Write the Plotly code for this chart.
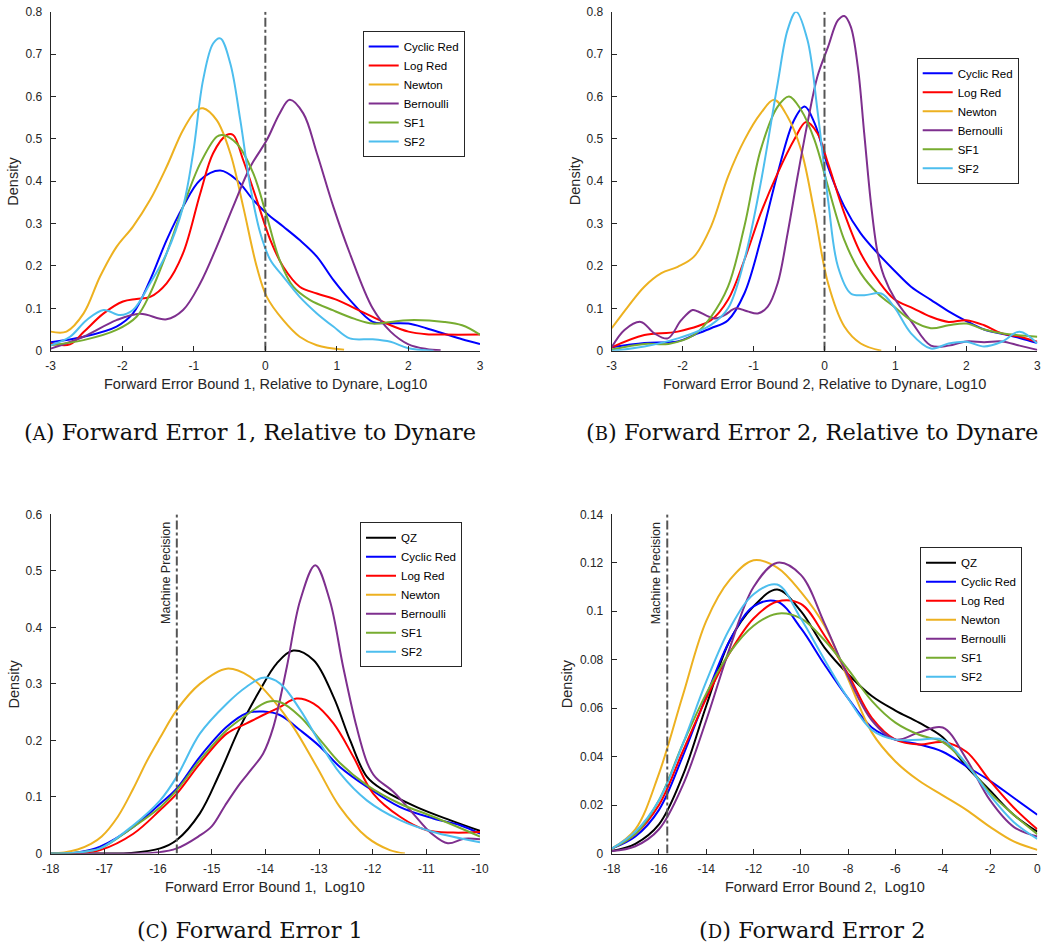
import plotly.graph_objects as go

# ---------------- DATA ----------------
COLORS = {"QZ": "#000000", "Cyclic Red": "#0000FF", "Log Red": "#FF0000", "Newton": "#EDB120",
          "Bernoulli": "#7E2F8E", "SF1": "#77AC30", "SF2": "#4DBEEE"}

# Panel A: Forward Error Bound 1, relative to Dynare (log10)
a_cyc_x = [-3, -2.54, -2.08, -1.85, -1.61, -1.38, -1.15, -0.91, -0.63, -0.4, -0.17, 0.02, 0.25, 0.48, 0.72, 0.95, 1.18, 1.5, 1.75, 2, 2.25, 2.5, 2.75, 3]
a_cyc_y = [0.02, 0.033, 0.057, 0.088, 0.167, 0.261, 0.34, 0.403, 0.425, 0.403, 0.356, 0.324, 0.293, 0.261, 0.222, 0.167, 0.12, 0.068, 0.065, 0.064, 0.053, 0.04, 0.027, 0.016]
a_log_x = [-3, -2.73, -2.54, -2.26, -1.99, -1.8, -1.61, -1.38, -1.15, -0.91, -0.73, -0.54, -0.45, -0.31, -0.12, 0.07, 0.25, 0.48, 0.72, 1, 1.25, 1.5, 1.75, 2, 2.25, 2.5, 3]
a_log_y = [0.017, 0.015, 0.044, 0.088, 0.116, 0.122, 0.127, 0.159, 0.23, 0.371, 0.466, 0.509, 0.509, 0.45, 0.356, 0.261, 0.198, 0.151, 0.135, 0.12, 0.1, 0.08, 0.06, 0.045, 0.039, 0.038, 0.038]
a_newt_x = [-3, -2.78, -2.54, -2.31, -2.08, -1.85, -1.61, -1.38, -1.15, -0.96, -0.87, -0.68, -0.49, -0.31, -0.12, 0.02, 0.25, 0.48, 0.72, 1.1]
a_newt_y = [0.045, 0.045, 0.088, 0.175, 0.245, 0.293, 0.356, 0.434, 0.521, 0.568, 0.572, 0.544, 0.466, 0.34, 0.198, 0.127, 0.072, 0.033, 0.013, 0.002]
a_bern_x = [-3, -2.54, -2.08, -1.75, -1.38, -1.15, -0.91, -0.68, -0.45, -0.21, 0.02, 0.2, 0.34, 0.53, 0.72, 0.95, 1.18, 1.5, 1.75, 2, 2.25, 2.45]
a_bern_y = [0.005, 0.033, 0.072, 0.087, 0.074, 0.096, 0.159, 0.245, 0.34, 0.434, 0.497, 0.56, 0.592, 0.56, 0.466, 0.34, 0.23, 0.1, 0.045, 0.015, 0.004, 0.001]
a_sf1_x = [-3, -2.54, -2.08, -1.8, -1.61, -1.38, -1.15, -0.91, -0.68, -0.6, -0.4, -0.17, 0.02, 0.2, 0.39, 0.62, 0.95, 1.25, 1.5, 1.75, 2, 2.5, 2.75, 3]
a_sf1_y = [0.013, 0.025, 0.049, 0.08, 0.135, 0.23, 0.34, 0.442, 0.505, 0.509, 0.489, 0.419, 0.317, 0.214, 0.151, 0.12, 0.095, 0.075, 0.064, 0.068, 0.072, 0.068, 0.06, 0.038]
a_sf2_x = [-3, -2.73, -2.5, -2.26, -2.03, -1.85, -1.61, -1.38, -1.15, -1.01, -0.87, -0.73, -0.63, -0.49, -0.35, -0.21, -0.07, 0.07, 0.25, 0.48, 0.72, 0.95, 1.18, 1.5, 1.75, 2, 2.35]
a_sf2_y = [0.013, 0.033, 0.072, 0.096, 0.084, 0.096, 0.159, 0.23, 0.34, 0.466, 0.639, 0.725, 0.737, 0.678, 0.544, 0.387, 0.277, 0.214, 0.175, 0.127, 0.088, 0.057, 0.029, 0.027, 0.021, 0.006, 0.0]

# Panel B: Forward Error Bound 2, relative to Dynare (log10)
b_cyc_x = [-3, -2.54, -2.07, -1.84, -1.6, -1.36, -1.13, -0.9, -0.66, -0.43, -0.28, -0.14, 0.05, 0.28, 0.51, 0.75, 0.98, 1.22, 1.5, 1.75, 2, 2.25, 2.5, 2.75, 3]
b_cyc_y = [0.008, 0.018, 0.022, 0.037, 0.053, 0.072, 0.135, 0.261, 0.419, 0.544, 0.576, 0.537, 0.434, 0.34, 0.277, 0.23, 0.19, 0.151, 0.12, 0.093, 0.07, 0.05, 0.04, 0.03, 0.018]
b_log_x = [-3, -2.54, -2.07, -1.6, -1.36, -1.13, -0.9, -0.66, -0.43, -0.26, -0.1, 0.05, 0.28, 0.51, 0.75, 0.98, 1.25, 1.5, 1.75, 2, 2.25, 2.5, 2.75, 3]
b_log_y = [0.008, 0.037, 0.045, 0.072, 0.12, 0.214, 0.324, 0.419, 0.497, 0.54, 0.513, 0.442, 0.324, 0.23, 0.167, 0.122, 0.1, 0.08, 0.068, 0.072, 0.06, 0.041, 0.033, 0.021]
b_newt_x = [-3, -2.77, -2.54, -2.3, -2.07, -1.84, -1.6, -1.36, -1.13, -0.9, -0.71, -0.52, -0.33, -0.14, 0.05, 0.28, 0.51, 0.8]
b_newt_y = [0.053, 0.104, 0.151, 0.183, 0.198, 0.222, 0.293, 0.411, 0.497, 0.56, 0.592, 0.552, 0.474, 0.324, 0.159, 0.057, 0.017, 0.0]
b_bern_x = [-3, -2.82, -2.59, -2.4, -2.21, -2.02, -1.86, -1.79, -1.55, -1.41, -1.25, -1.09, -0.94, -0.8, -0.66, -0.52, -0.38, -0.24, -0.1, 0.05, 0.19, 0.28, 0.37, 0.47, 0.56, 0.66, 0.75, 0.84, 1.0, 1.22, 1.5, 1.75, 2, 2.25, 2.5, 2.75, 3]
b_bern_y = [0.008, 0.049, 0.068, 0.041, 0.029, 0.072, 0.096, 0.093, 0.076, 0.084, 0.1, 0.093, 0.088, 0.104, 0.159, 0.277, 0.411, 0.537, 0.647, 0.717, 0.78, 0.79, 0.765, 0.67, 0.513, 0.34, 0.23, 0.175, 0.12, 0.07, 0.012, 0.012, 0.022, 0.02, 0.022, 0.012, 0.002]
b_sf1_x = [-3, -2.54, -2.2, -1.84, -1.6, -1.36, -1.13, -0.9, -0.66, -0.5, -0.33, -0.14, 0.05, 0.28, 0.51, 0.75, 0.98, 1.22, 1.5, 1.75, 2, 2.25, 2.5, 3]
b_sf1_y = [0.003, 0.016, 0.016, 0.037, 0.08, 0.151, 0.293, 0.474, 0.576, 0.6, 0.568, 0.497, 0.387, 0.261, 0.183, 0.135, 0.104, 0.072, 0.053, 0.06, 0.064, 0.05, 0.041, 0.033]
b_sf2_x = [-3, -2.54, -2.07, -1.6, -1.36, -1.13, -0.9, -0.66, -0.52, -0.4, -0.24, -0.1, 0.05, 0.19, 0.37, 0.56, 0.8, 0.98, 1.22, 1.5, 1.75, 2, 2.25, 2.5, 2.75, 3]
b_sf2_y = [0.0, 0.01, 0.029, 0.061, 0.1, 0.214, 0.395, 0.631, 0.757, 0.8, 0.733, 0.568, 0.356, 0.198, 0.135, 0.131, 0.135, 0.104, 0.041, 0.005, 0.017, 0.021, 0.01, 0.021, 0.045, 0.017]

# Panel C: Forward Error Bound 1 (log10)
c_qz_x = [-18, -17, -16.5, -15.96, -15.65, -15.22, -14.85, -14.47, -14.1, -13.79, -13.48, -13.1, -12.73, -12.42, -12.11, -11.8, -11.18, -10.56, -10]
c_qz_y = [0, 0, 0.001, 0.009, 0.024, 0.071, 0.142, 0.224, 0.289, 0.336, 0.359, 0.342, 0.277, 0.2, 0.136, 0.112, 0.082, 0.059, 0.04]
c_cyc_x = [-18, -17.5, -17.08, -16.46, -15.96, -15.65, -15.22, -14.72, -14.35, -14.04, -13.73, -13.35, -12.98, -12.61, -12.11, -11.49, -10.87, -10.37, -10]
c_cyc_y = [0, 0.002, 0.012, 0.047, 0.088, 0.115, 0.171, 0.224, 0.248, 0.251, 0.245, 0.218, 0.189, 0.153, 0.118, 0.082, 0.062, 0.05, 0.035]
c_log_x = [-18, -17.5, -17.08, -16.46, -15.96, -15.65, -15.22, -14.72, -14.35, -14.04, -13.73, -13.42, -13.1, -12.73, -12.36, -11.99, -11.49, -10.99, -10.5, -10]
c_log_y = [0, 0.001, 0.006, 0.035, 0.077, 0.106, 0.159, 0.212, 0.23, 0.245, 0.259, 0.274, 0.265, 0.23, 0.171, 0.106, 0.065, 0.041, 0.037, 0.038]
c_newt_x = [-18, -17.75, -17.5, -17.25, -17.05, -16.75, -16.46, -16.2, -15.96, -15.65, -15.22, -14.72, -14.29, -13.85, -13.48, -13.04, -12.61, -12.11, -11.68, -11.4]
c_newt_y = [0, 0.002, 0.007, 0.017, 0.03, 0.065, 0.115, 0.165, 0.205, 0.254, 0.3, 0.327, 0.313, 0.271, 0.224, 0.153, 0.082, 0.029, 0.006, 0.0]
c_bern_x = [-18, -16.5, -16, -15.65, -15.25, -15.0, -14.75, -14.47, -14.25, -14.04, -13.85, -13.6, -13.35, -13.07, -12.8, -12.55, -12.3, -12.1, -11.95, -11.6, -11.25, -10.9, -10.6, -10.3, -10]
c_bern_y = [0, 0, 0.002, 0.009, 0.03, 0.048, 0.085, 0.124, 0.15, 0.177, 0.224, 0.33, 0.448, 0.51, 0.448, 0.33, 0.224, 0.16, 0.135, 0.108, 0.071, 0.035, 0.018, 0.026, 0.025]
c_sf1_x = [-18, -17.5, -17.08, -16.46, -15.96, -15.65, -15.22, -14.72, -14.35, -13.97, -13.73, -13.35, -12.98, -12.61, -12.11, -11.49, -10.87, -10]
c_sf1_y = [0, 0.002, 0.009, 0.047, 0.082, 0.112, 0.165, 0.218, 0.245, 0.268, 0.268, 0.242, 0.201, 0.16, 0.121, 0.088, 0.065, 0.03]
c_sf2_x = [-18, -17.5, -17.08, -16.46, -15.96, -15.65, -15.22, -14.72, -14.35, -14.04, -13.73, -13.35, -12.98, -12.61, -12.11, -11.49, -10.87, -10]
c_sf2_y = [0, 0.002, 0.009, 0.05, 0.094, 0.136, 0.212, 0.265, 0.295, 0.311, 0.301, 0.254, 0.195, 0.142, 0.094, 0.059, 0.038, 0.02]

# Panel D: Forward Error Bound 2 (log10)
d_x = [-18, -17, -16, -15, -14, -13, -12, -11, -10, -9, -8, -7, -6, -5, -4, -3, -2, -1, 0]
d_qz_y = [0.001, 0.004, 0.012, 0.032, 0.061, 0.088, 0.102, 0.109, 0.1, 0.085, 0.074, 0.065, 0.059, 0.054, 0.048, 0.036, 0.026, 0.016, 0.009]
d_cyc_y = [0.002, 0.007, 0.018, 0.04, 0.065, 0.088, 0.102, 0.104, 0.093, 0.078, 0.064, 0.052, 0.047, 0.045, 0.042, 0.036, 0.03, 0.023, 0.016]
d_log_y = [0.002, 0.008, 0.02, 0.042, 0.064, 0.083, 0.097, 0.104, 0.103, 0.09, 0.074, 0.056, 0.047, 0.045, 0.046, 0.042, 0.03, 0.019, 0.01]
d_newt_y = [0.002, 0.01, 0.033, 0.065, 0.096, 0.113, 0.121, 0.118, 0.108, 0.094, 0.072, 0.05, 0.038, 0.03, 0.024, 0.018, 0.011, 0.005, 0.0015]
d_bern_y = [0.001, 0.003, 0.01, 0.028, 0.055, 0.085, 0.11, 0.12, 0.115, 0.095, 0.073, 0.055, 0.047, 0.05, 0.052, 0.039, 0.022, 0.011, 0.007]
d_sf1_y = [0.002, 0.008, 0.022, 0.045, 0.066, 0.083, 0.094, 0.099, 0.097, 0.088, 0.076, 0.063, 0.054, 0.049, 0.046, 0.037, 0.025, 0.016, 0.008]
d_sf2_y = [0.002, 0.009, 0.022, 0.045, 0.071, 0.093, 0.107, 0.111, 0.097, 0.08, 0.064, 0.051, 0.047, 0.047, 0.047, 0.037, 0.024, 0.013, 0.006]

MACHINE_PRECISION = -15.65

xA_ticks = [-3, -2, -1, 0, 1, 2, 3]
xC_ticks = [-18, -17, -16, -15, -14, -13, -12, -11, -10]
xD_ticks = [-18, -16, -14, -12, -10, -8, -6, -4, -2, 0]
yAB_ticks = [0, 0.1, 0.2, 0.3, 0.4, 0.5, 0.6, 0.7, 0.8]
yC_ticks = [0, 0.1, 0.2, 0.3, 0.4, 0.5, 0.6]
yD_ticks = [0, 0.02, 0.04, 0.06, 0.08, 0.1, 0.12, 0.14]

# ---------------- FIGURE ----------------
W, H = 1047, 950
FONT = "Liberation Sans"
TXT = "#262626"

fig = go.Figure()

panels = [
    dict(xa="x", ya="y", legend="legend",
         series=[("Cyclic Red", a_cyc_x, a_cyc_y), ("Log Red", a_log_x, a_log_y),
                 ("Newton", a_newt_x, a_newt_y), ("Bernoulli", a_bern_x, a_bern_y),
                 ("SF1", a_sf1_x, a_sf1_y), ("SF2", a_sf2_x, a_sf2_y)]),
    dict(xa="x2", ya="y2", legend="legend2",
         series=[("Cyclic Red", b_cyc_x, b_cyc_y), ("Log Red", b_log_x, b_log_y),
                 ("Newton", b_newt_x, b_newt_y), ("Bernoulli", b_bern_x, b_bern_y),
                 ("SF1", b_sf1_x, b_sf1_y), ("SF2", b_sf2_x, b_sf2_y)]),
    dict(xa="x3", ya="y3", legend="legend3",
         series=[("QZ", c_qz_x, c_qz_y), ("Cyclic Red", c_cyc_x, c_cyc_y), ("Log Red", c_log_x, c_log_y),
                 ("Newton", c_newt_x, c_newt_y), ("Bernoulli", c_bern_x, c_bern_y),
                 ("SF1", c_sf1_x, c_sf1_y), ("SF2", c_sf2_x, c_sf2_y)]),
    dict(xa="x4", ya="y4", legend="legend4",
         series=[("QZ", d_x, d_qz_y), ("Cyclic Red", d_x, d_cyc_y), ("Log Red", d_x, d_log_y),
                 ("Newton", d_x, d_newt_y), ("Bernoulli", d_x, d_bern_y),
                 ("SF1", d_x, d_sf1_y), ("SF2", d_x, d_sf2_y)]),
]

for p in panels:
    for name, xs, ys in p["series"]:
        fig.add_trace(go.Scatter(
            x=xs, y=ys, mode="lines", name=name, legend=p["legend"],
            xaxis=p["xa"], yaxis=p["ya"], hoverinfo="x+y+name",
            line=dict(color=COLORS[name], width=2, shape="spline", smoothing=1.0),
        ))

# vertical reference lines (Dynare = 0, machine precision)
vlines = [("x", "y", 0, 0.8), ("x2", "y2", 0, 0.8),
          ("x3", "y3", MACHINE_PRECISION, 0.6), ("x4", "y4", MACHINE_PRECISION, 0.14)]
for xa, ya, xv, ytop in vlines:
    fig.add_trace(go.Scatter(x=[xv, xv], y=[0, ytop], mode="lines", showlegend=False, hoverinfo="skip",
                             xaxis=xa, yaxis=ya, line=dict(color="#555555", width=2, dash="dashdot")))


def dom_x(a, b):
    return [a / W, b / W]


def dom_y(top, bottom):
    return [1 - bottom / H, 1 - top / H]


def xaxis(domain, rng, anchor, ticks):
    return dict(domain=domain, range=rng, anchor=anchor, automargin=False,
                tickmode="array", tickvals=ticks, ticktext=[str(v) for v in ticks],
                showline=True, linecolor=TXT, linewidth=1, ticks="inside", ticklen=5, tickcolor=TXT,
                tickfont=dict(family=FONT, size=12, color=TXT), ticklabelstandoff=4,
                showgrid=False, zeroline=False, fixedrange=True)


def yaxis(domain, rng, anchor, ticks):
    return dict(domain=domain, range=rng, anchor=anchor, automargin=False,
                tickmode="array", tickvals=ticks, ticktext=[("0" if v == 0 else f"{v:g}") for v in ticks],
                showline=True, linecolor=TXT, linewidth=1, ticks="inside", ticklen=5, tickcolor=TXT,
                tickfont=dict(family=FONT, size=12, color=TXT), ticklabelstandoff=5,
                showgrid=False, zeroline=False, fixedrange=True)


LX = (50.7, 480.0)
RX = (611.7, 1037.3)
TOP = (11.7, 350.7)
BOT = (514.3, 853.5)

fig.update_layout(
    width=W, height=H, margin=dict(l=0, r=0, t=0, b=0, autoexpand=False),
    paper_bgcolor="white", plot_bgcolor="white", showlegend=True,
    xaxis=xaxis(dom_x(*LX), [-3, 3], "y", xA_ticks),
    yaxis=yaxis(dom_y(*TOP), [0, 0.8], "x", yAB_ticks),
    xaxis2=xaxis(dom_x(*RX), [-3, 3], "y2", xA_ticks),
    yaxis2=yaxis(dom_y(*TOP), [0, 0.8], "x2", yAB_ticks),
    xaxis3=xaxis(dom_x(*LX), [-18, -10], "y3", xC_ticks),
    yaxis3=yaxis(dom_y(*BOT), [0, 0.6], "x3", yC_ticks),
    xaxis4=xaxis(dom_x(*RX), [-18, 0], "y4", xD_ticks),
    yaxis4=yaxis(dom_y(*BOT), [0, 0.14], "x4", yD_ticks),
)

leg_common = dict(bgcolor="white", bordercolor=TXT, borderwidth=1, xanchor="left", yanchor="top",
                  font=dict(family=FONT, size=11.5, color="#000000"), tracegroupgap=0, itemwidth=30,
                  traceorder="normal", xref="paper", yref="paper")
fig.update_layout(
    legend=dict(x=362.7 / W, y=1 - 31 / H, **leg_common),
    legend2=dict(x=916.7 / W, y=1 - 57.7 / H, **leg_common),
    legend3=dict(x=360 / W, y=1 - 522.3 / H, **leg_common),
    legend4=dict(x=920 / W, y=1 - 547.3 / H, **leg_common),
)

# axis titles
TITLE_FONT = dict(family=FONT, size=14.5, color=TXT)
axis_titles = [
    (265.4, 384, "Forward Error Bound 1, Relative to Dynare, Log10", 0),
    (824.5, 384, "Forward Error Bound 2, Relative to Dynare, Log10", 0),
    (265.4, 887, "Forward Error Bound 1,  Log10", 0),
    (824.5, 887, "Forward Error Bound 2,  Log10", 0),
    (13.5, 181.2, "Density", -90),
    (575.0, 181.2, "Density", -90),
    (13.5, 684.0, "Density", -90),
    (567.3, 684.0, "Density", -90),
]
for tx, ty, txt, ang in axis_titles:
    fig.add_annotation(x=tx / W, y=1 - ty / H, xref="paper", yref="paper", text=txt, showarrow=False,
                       textangle=ang, xanchor="center", yanchor="middle", font=TITLE_FONT)

# Machine precision labels
for xa, ya, yc in [("x3", "y3", 0.496), ("x4", "y4", 0.1158)]:
    fig.add_annotation(x=MACHINE_PRECISION, y=yc, xref=xa, yref=ya, text="Machine Precision",
                       textangle=-90, showarrow=False, xanchor="center", yanchor="middle", xshift=-11,
                       font=dict(family=FONT, size=12.5, color=TXT))

# Sub-figure captions (small-caps letter)
CAP_FONT = dict(family="DejaVu Serif", size=22.5, color="#111111")
sc = '<span style="font-size:18px">{}</span>'
captions = [
    (250, 432, "(" + sc.format("A") + ") Forward Error 1, Relative to Dynare"),
    (812, 432, "(" + sc.format("B") + ") Forward Error 2, Relative to Dynare"),
    (250, 930, "(" + sc.format("C") + ") Forward Error 1"),
    (812, 930, "(" + sc.format("D") + ") Forward Error 2"),
]
for cx, cy, txt in captions:
    fig.add_annotation(x=cx / W, y=1 - cy / H, xref="paper", yref="paper", text=txt, showarrow=False,
                       xanchor="center", yanchor="middle", font=CAP_FONT)

# remove the browser's default page margin so the figure sits at the window origin
fig.write_html("out.html", config={"displayModeBar": False},
               post_script="document.body.style.margin='0px';")
